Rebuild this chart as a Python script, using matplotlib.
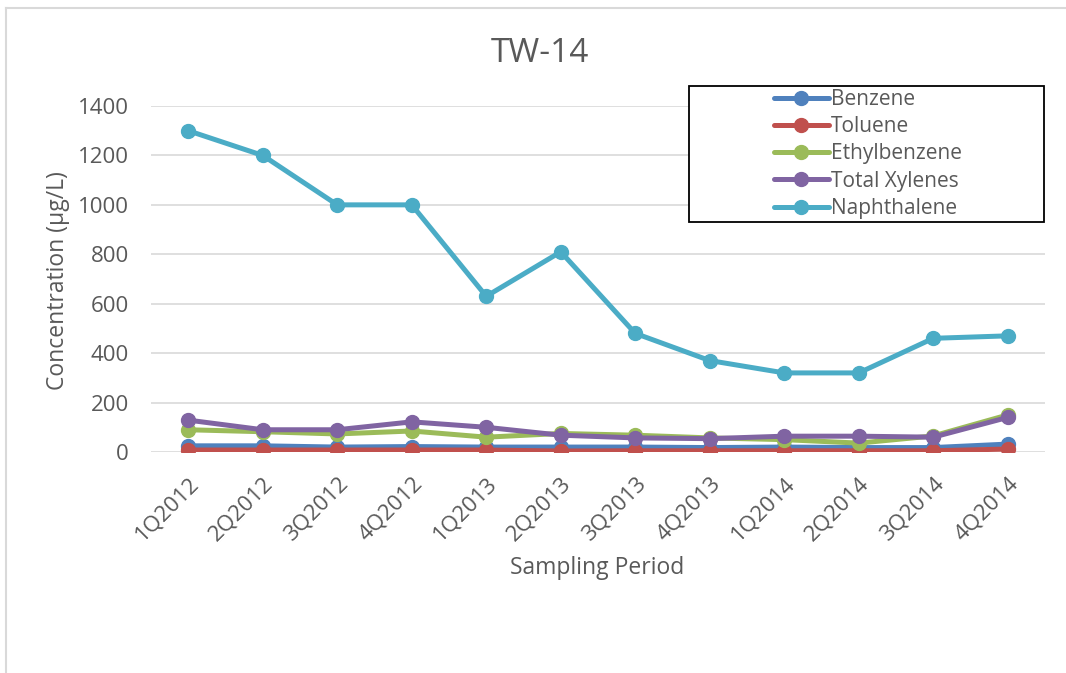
import matplotlib
matplotlib.use("Agg")
import matplotlib.pyplot as plt
from matplotlib.lines import Line2D
from matplotlib.patches import Rectangle

periods = ["1Q2012", "2Q2012", "3Q2012", "4Q2012", "1Q2013", "2Q2013",
           "3Q2013", "4Q2013", "1Q2014", "2Q2014", "3Q2014", "4Q2014"]
benzene = [25, 25, 20, 22, 20, 20, 20, 18, 20, 18, 18, 32]
toluene = [8, 8, 8, 8, 8, 4, 5, 5, 5, 5, 5, 12]
ethylbenzene = [90, 82, 73, 85, 60, 75, 68, 57, 50, 36, 65, 150]
xylenes = [129, 90, 90, 122, 100, 68, 57, 54, 64, 64, 60, 140]
naphthalene = [1300, 1200, 1000, 1000, 630, 810, 480, 370, 320, 320, 460, 470]

series = [("Benzene", benzene, "#4F81BD"),
          ("Toluene", toluene, "#C0504D"),
          ("Ethylbenzene", ethylbenzene, "#9BBB59"),
          ("Total Xylenes", xylenes, "#8064A2"),
          ("Naphthalene", naphthalene, "#4BACC6")]

plt.rcParams['font.family'] = ['Open Sans', 'DejaVu Sans']
txt = "#595959"
W, H = 1066, 673

fig = plt.figure(figsize=(W / 100, H / 100), dpi=100)
# outer chart border (top and left visible)
fig.lines.append(Line2D([6 / W, 1.0], [1 - 8 / H, 1 - 8 / H], transform=fig.transFigure,
                        color="#D9D9D9", linewidth=1.5))
fig.lines.append(Line2D([6 / W, 6 / W], [0, 1 - 8 / H], transform=fig.transFigure,
                        color="#D9D9D9", linewidth=1.5))

ax = fig.add_axes([151 / W, 1 - 452 / H, 894 / W, 346 / H])

x = list(range(len(periods)))
for name, vals, col in series:
    ax.plot(x, vals, color=col, linewidth=3.6, marker='o', markersize=10,
            label=name, solid_capstyle='round')

ax.set_xlim(-0.5, len(periods) - 0.5)
ax.set_ylim(0, 1400)
ax.set_yticks(range(0, 1401, 200))
ax.set_xticks(x)
ax.set_xticklabels(periods, rotation=45, ha='right', va='top', rotation_mode='anchor')
ax.grid(axis='y', color='#D9D9D9', linewidth=1.2)
ax.set_axisbelow(True)
for s in ax.spines.values():
    s.set_visible(False)
ax.tick_params(axis='both', length=0, colors=txt, labelsize=16)
ax.tick_params(axis='x', pad=15)
ax.tick_params(axis='y', pad=16)

fig.text(540 / W, 1 - 53 / H, "TW-14", fontsize=24, color=txt, ha='center', va='center')
fig.text(58 / W, 1 - 281 / H, "Concentration (µg/L)", fontsize=16.5, color=txt,
         ha='center', va='center', rotation=90)
fig.text(597 / W, 1 - 568 / H, "Sampling Period", fontsize=16.5, color=txt,
         ha='center', va='center')

# legend box
fig.patches.append(Rectangle((689 / W, 1 - 222 / H), 355 / W, 136 / H, transform=fig.transFigure,
                             fill=True, facecolor='white', edgecolor='black', linewidth=1.3,
                             zorder=5))
leg = fig.legend(*ax.get_legend_handles_labels(), loc='center',
                 bbox_to_anchor=(868 / W, 1 - 154 / H), frameon=False,
                 fontsize=15, handlelength=2.6, handletextpad=0.1,
                 labelspacing=0.3, borderpad=0.0, borderaxespad=0)
leg.set_zorder(6)
for t in leg.get_texts():
    t.set_color(txt)

fig.savefig("out.png", dpi=100)
